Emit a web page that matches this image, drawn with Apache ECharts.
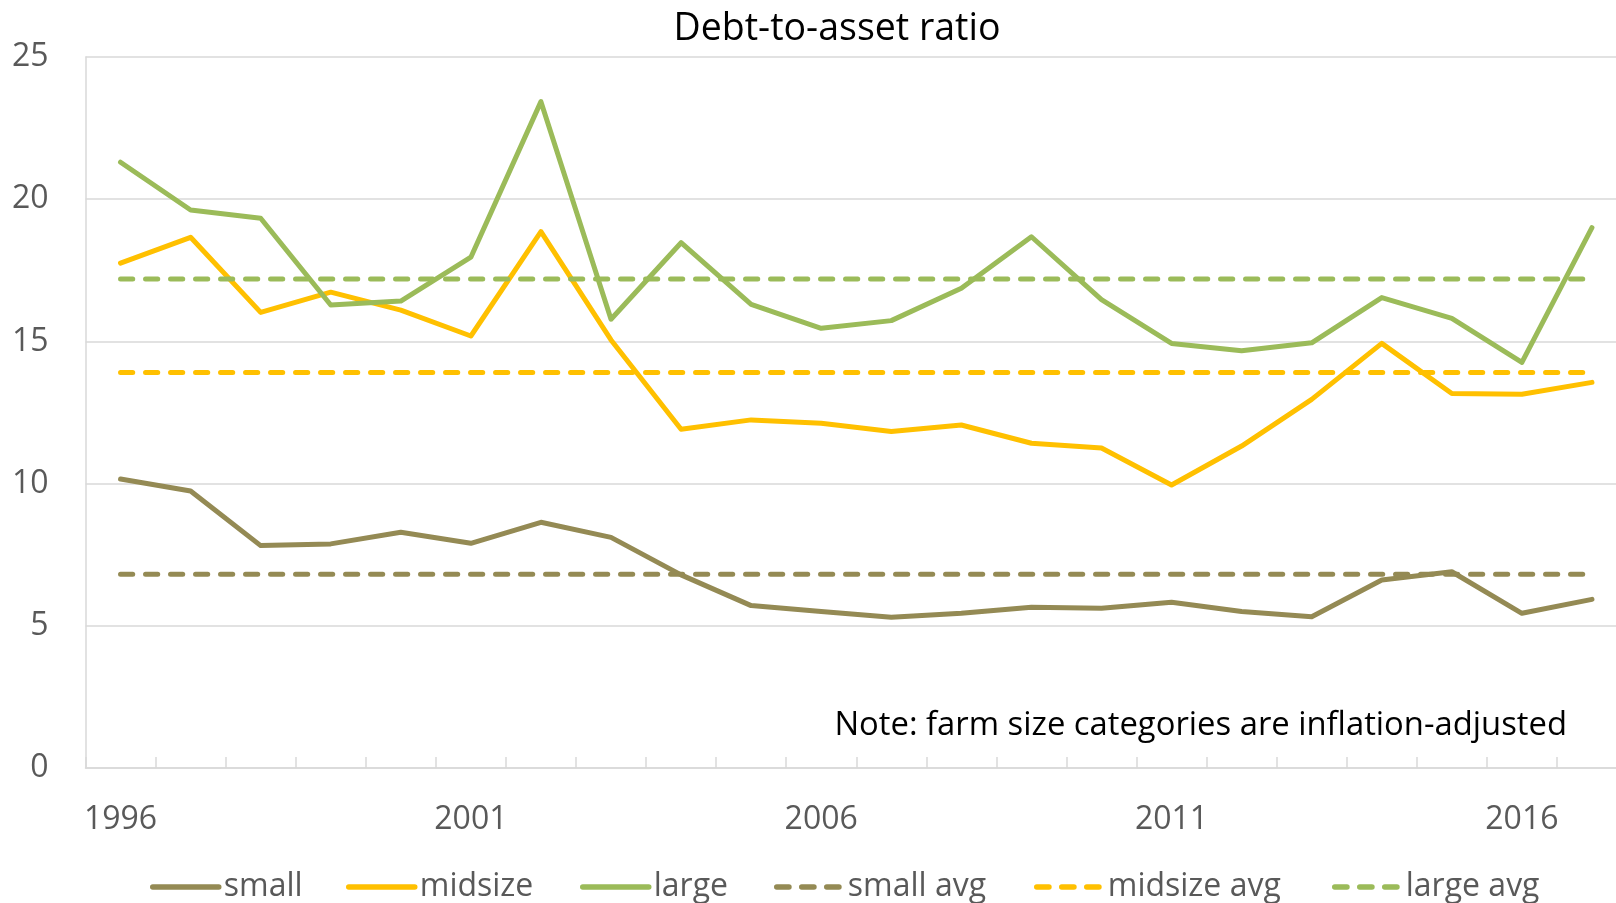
<!DOCTYPE html>
<html><head><meta charset="utf-8">
<script src="https://cdn.jsdelivr.net/npm/echarts@6/dist/echarts.min.js"></script>
<style>html,body{margin:0;padding:0;background:#fff;}#c{width:1616px;height:903px;}</style>
</head><body><div id="c"></div>
<script>
const years = ['1996','1997','1998','1999','2000','2001','2002','2003','2004','2005','2006','2007','2008','2009','2010','2011','2012','2013','2014','2015','2016','2017'];
const small = [10.16, 9.74, 7.82, 7.88, 8.29, 7.90, 8.64, 8.11, 6.79, 5.71, 5.50, 5.30, 5.44, 5.65, 5.62, 5.83, 5.50, 5.32, 6.61, 6.90, 5.44, 5.93];
const midsize = [17.75, 18.66, 16.02, 16.73, 16.10, 15.19, 18.86, 15.05, 11.91, 12.24, 12.12, 11.83, 12.06, 11.42, 11.25, 9.95, 11.32, 12.96, 14.93, 13.17, 13.14, 13.56];
const large = [21.30, 19.62, 19.33, 16.28, 16.42, 17.96, 23.43, 15.78, 18.47, 16.30, 15.46, 15.73, 16.87, 18.68, 16.47, 14.93, 14.67, 14.95, 16.54, 15.81, 14.26, 19.00];
const smallAvg = [6.81, 6.81, 6.81, 6.81, 6.81, 6.81, 6.81, 6.81, 6.81, 6.81, 6.81, 6.81, 6.81, 6.81, 6.81, 6.81, 6.81, 6.81, 6.81, 6.81, 6.81, 6.81];
const midsizeAvg = [13.91, 13.91, 13.91, 13.91, 13.91, 13.91, 13.91, 13.91, 13.91, 13.91, 13.91, 13.91, 13.91, 13.91, 13.91, 13.91, 13.91, 13.91, 13.91, 13.91, 13.91, 13.91];
const largeAvg = [17.19, 17.19, 17.19, 17.19, 17.19, 17.19, 17.19, 17.19, 17.19, 17.19, 17.19, 17.19, 17.19, 17.19, 17.19, 17.19, 17.19, 17.19, 17.19, 17.19, 17.19, 17.19];
const seriesNames = ['small','midsize','large','small avg','midsize avg','large avg'];
const colors = ['#948A54','#FFC000','#9BBB59','#948A54','#FFC000','#9BBB59'];
const titleText = 'Debt-to-asset ratio';
const noteText = 'Note: farm size categories are inflation-adjusted';

const FONT = 'Open Sans';
const chart = echarts.init(document.getElementById('c'), null, {renderer:'canvas'});
const dataSets = [small, midsize, large, smallAvg, midsizeAvg, largeAvg];
const legendLefts = [150, 346, 580, 774, 1034, 1332];

const series = dataSets.map((d, i) => ({
  name: seriesNames[i],
  type: 'line',
  data: d,
  symbol: 'none',
  showSymbol: false,
  color: colors[i],
  lineStyle: {
    color: colors[i], width: 5, cap: 'round', join: 'round',
    type: i >= 3 ? [12.2, 12.8] : 'solid'
  },
  z: 2 + i
}));

const legends = seriesNames.map((n, i) => ({
  data: [n],
  left: legendLefts[i],
  top: 867,
  orient: 'horizontal',
  padding: 0,
  itemWidth: 66,
  itemHeight: 14,
  itemStyle: {opacity: 0},
  lineStyle: {width: 5.5, cap: 'round'},
  textStyle: {fontFamily: FONT, fontSize: 32, color: '#595959', lineHeight: 40},
  selectedMode: false
}));

chart.setOption({
  animation: false,
  backgroundColor: '#ffffff',
  title: [
    {text: titleText, left: 837, top: 10, textAlign: 'center', padding: 0,
     textStyle: {fontFamily: FONT, fontSize: 37.5, fontWeight: 'normal', color: '#000000', lineHeight: 38}},
    {text: noteText, left: 1567, top: 709, textAlign: 'right', padding: 0,
     textStyle: {fontFamily: FONT, fontSize: 32.8, fontWeight: 'normal', color: '#000000', lineHeight: 33}}
  ],
  legend: legends,
  grid: {left: 85.5, top: 57, width: 1541.5, height: 711, containLabel: false, outerBoundsMode: 'none'},
  xAxis: {
    type: 'category',
    data: years,
    boundaryGap: true,
    axisLine: {show: true, lineStyle: {color: '#D9D9D9', width: 1.5}},
    axisTick: {show: true, inside: true, length: 11, interval: 0, alignWithLabel: false, lineStyle: {color: '#D9D9D9', width: 1.5}},
    axisLabel: {interval: 4, margin: 36, fontFamily: FONT, fontSize: 32, color: '#595959', lineHeight: 32},
    splitLine: {show: false}
  },
  yAxis: {
    type: 'value',
    min: 0, max: 25, interval: 5,
    axisLine: {show: true, lineStyle: {color: '#D9D9D9', width: 1.5}},
    axisTick: {show: false},
    axisLabel: {margin: 37, fontFamily: FONT, fontSize: 32, color: '#595959', lineHeight: 32, padding: [5, 0, 0, 0]},
    splitLine: {show: true, lineStyle: {color: '#D9D9D9', width: 1.5}}
  },
  series: series
});
</script>
</body></html>
